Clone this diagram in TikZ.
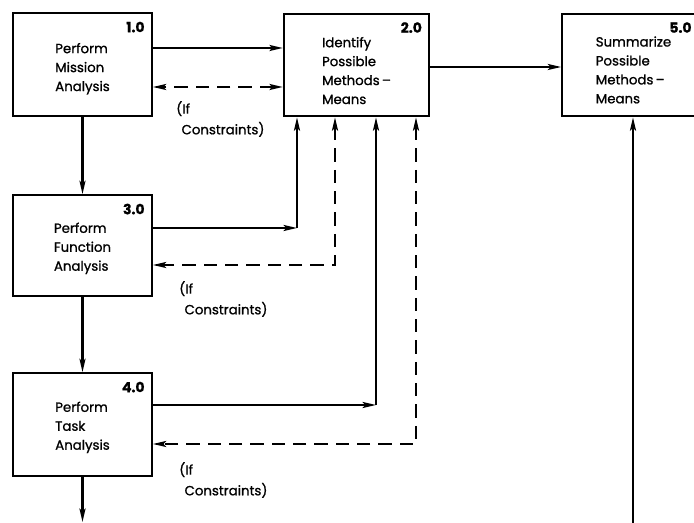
\documentclass[tikz,border=0pt]{standalone}
\usepackage{fontspec}
\setmainfont{Poppins}[FakeBold=1]
\usetikzlibrary{arrows.meta}
\tikzset{
  procbox/.style={draw, line width=1.5pt, minimum width=104pt, minimum height=77pt, align=left, inner sep=0pt, font=\fontsize{10}{14.2}\selectfont},
  numtag/.style={anchor=north east, inner sep=0pt, font=\bfseries\fontsize{10.5}{12}\selectfont},
  ifnote/.style={anchor=west, align=left, inner sep=0pt, font=\fontsize{10}{15.5}\selectfont},
  tip/.tip={Stealth[length=10pt, width=4.5pt, inset=2pt]},
  flow/.style={line width=1.6pt, -tip},
  cons/.style={line width=1.6pt, dash pattern=on 10pt off 6pt, tip-tip}
}
\newcommand{\lowtop}[1]{\rule{0pt}{#1}}
\begin{document}
\begin{tikzpicture}[x=0.75pt, y=-0.75pt]
  \useasboundingbox (0,0) rectangle (694,523);
  \clip (0,0) rectangle (694,523);

  \node[procbox] (b1) at (82.5,64.5) {\lowtop{14pt}Perform\\Mission\\Analysis};
  \node[procbox, minimum width=109pt] (b2) at (356.5,65) {\lowtop{16pt}Identify\\Possible\\Methods\,--\\Means};
  \node[procbox, minimum width=107pt] (b5) at (633.5,65) {\lowtop{15pt}Summarize\\Possible\\Methods\,--\\Means};
  \node[procbox, minimum height=75.5pt] (b3) at (82.5,245.5) {\lowtop{12pt}Perform\\Function\\Analysis};
  \node[procbox] (b4) at (82.5,424.5) {\lowtop{12pt}Perform\\Task\\Analysis};

  \node[numtag] (n1) at ([shift={(-6pt,-7pt)}]b1.north east) {1.0};
  \node[numtag] (n2) at ([shift={(-6pt,-7pt)}]b2.north east) {2.0};
  \node[numtag] (n5) at ([shift={(-10.5pt,-7pt)}]b5.north east) {5.0};
  \node[numtag] (n3) at ([shift={(-6pt,-7pt)}]b3.north east) {3.0};
  \node[numtag] (n4) at ([shift={(-6pt,-7pt)}]b4.north east) {4.0};

  \node[ifnote] (if1) at (176,119) {(If\\\hspace{4pt}Constraints)};
  \node[ifnote] (if3) at (179,299) {(If\\\hspace{4pt}Constraints)};
  \node[ifnote] (if4) at (179,480) {(If\\\hspace{4pt}Constraints)};

  \coordinate (c3) at (297,228);
  \coordinate (c4) at (376,405);
  \coordinate (d3) at (335,265);
  \coordinate (d4) at (416,444);
  \coordinate (out4) at (82.5,522);
  \coordinate (in5) at (633,523);

  \draw[flow] (b1.east |- 0,48) -- (b2.west |- 0,48);
  \draw[cons] (b2.west |- 0,87) -- (b1.east |- 0,87);
  \draw[flow] (b2.east |- 0,67) -- (b5.west |- 0,67);
  \draw[flow] (b1) -- (b3);
  \draw[flow] (b3) -- (b4);
  \draw[flow] (b4) -- (out4);
  \draw[flow] (in5) -- (b5.south -| in5);

  \draw[flow] (b3.east |- c3) -- (c3);
  \draw[flow] (c3) -- (b2.south -| c3);
  \draw[cons] (b2.south -| d3) |- (b3.east |- d3);

  \draw[flow] (b4.east |- c4) -- (c4);
  \draw[flow] (c4) -- (b2.south -| c4);
  \draw[cons] (b2.south -| d4) |- (b4.east |- d4);
\end{tikzpicture}
\end{document}
